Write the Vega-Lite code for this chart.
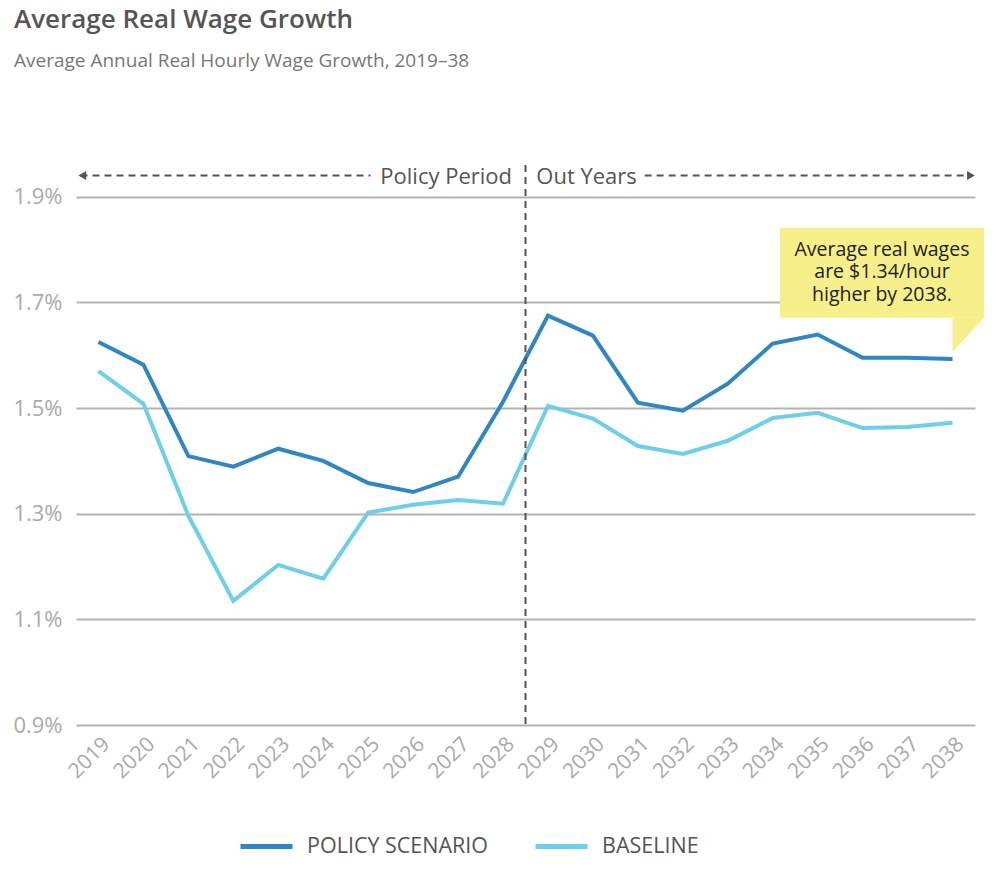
{
  "$schema": "https://vega.github.io/schema/vega-lite/v6.json",
  "description": "Average real hourly wage growth, policy scenario vs baseline, 2019-2038.",
  "width": 899,
  "height": 560,
  "autosize": {"type": "none"},
  "padding": {"left": 76, "top": 165, "right": 25, "bottom": 145},
  "title": {
    "text": "Average Real Wage Growth",
    "subtitle": "Average Annual Real Hourly Wage Growth, 2019–38",
    "anchor": "start",
    "frame": "group",
    "dx": -62,
    "offset": 93,
    "font": "Open Sans",
    "fontSize": 26,
    "fontWeight": 600,
    "color": "#555555",
    "subtitleFont": "Open Sans",
    "subtitleFontSize": 19,
    "subtitleColor": "#777777",
    "subtitlePadding": 19
  },
  "datasets": {
    "wages": [
      {"year": 2019, "series": "POLICY SCENARIO", "value": 1.625},
      {"year": 2020, "series": "POLICY SCENARIO", "value": 1.582},
      {"year": 2021, "series": "POLICY SCENARIO", "value": 1.409},
      {"year": 2022, "series": "POLICY SCENARIO", "value": 1.389},
      {"year": 2023, "series": "POLICY SCENARIO", "value": 1.423},
      {"year": 2024, "series": "POLICY SCENARIO", "value": 1.400},
      {"year": 2025, "series": "POLICY SCENARIO", "value": 1.358},
      {"year": 2026, "series": "POLICY SCENARIO", "value": 1.341},
      {"year": 2027, "series": "POLICY SCENARIO", "value": 1.370},
      {"year": 2028, "series": "POLICY SCENARIO", "value": 1.512},
      {"year": 2029, "series": "POLICY SCENARIO", "value": 1.675},
      {"year": 2030, "series": "POLICY SCENARIO", "value": 1.637},
      {"year": 2031, "series": "POLICY SCENARIO", "value": 1.510},
      {"year": 2032, "series": "POLICY SCENARIO", "value": 1.495},
      {"year": 2033, "series": "POLICY SCENARIO", "value": 1.546},
      {"year": 2034, "series": "POLICY SCENARIO", "value": 1.622},
      {"year": 2035, "series": "POLICY SCENARIO", "value": 1.639},
      {"year": 2036, "series": "POLICY SCENARIO", "value": 1.595},
      {"year": 2037, "series": "POLICY SCENARIO", "value": 1.595},
      {"year": 2038, "series": "POLICY SCENARIO", "value": 1.593},
      {"year": 2019, "series": "BASELINE", "value": 1.570},
      {"year": 2020, "series": "BASELINE", "value": 1.508},
      {"year": 2021, "series": "BASELINE", "value": 1.296},
      {"year": 2022, "series": "BASELINE", "value": 1.135},
      {"year": 2023, "series": "BASELINE", "value": 1.203},
      {"year": 2024, "series": "BASELINE", "value": 1.177},
      {"year": 2025, "series": "BASELINE", "value": 1.302},
      {"year": 2026, "series": "BASELINE", "value": 1.317},
      {"year": 2027, "series": "BASELINE", "value": 1.326},
      {"year": 2028, "series": "BASELINE", "value": 1.319},
      {"year": 2029, "series": "BASELINE", "value": 1.504},
      {"year": 2030, "series": "BASELINE", "value": 1.480},
      {"year": 2031, "series": "BASELINE", "value": 1.428},
      {"year": 2032, "series": "BASELINE", "value": 1.413},
      {"year": 2033, "series": "BASELINE", "value": 1.438},
      {"year": 2034, "series": "BASELINE", "value": 1.481},
      {"year": 2035, "series": "BASELINE", "value": 1.491},
      {"year": 2036, "series": "BASELINE", "value": 1.462},
      {"year": 2037, "series": "BASELINE", "value": 1.464},
      {"year": 2038, "series": "BASELINE", "value": 1.472}
    ],
    "divider": [{"year": 2028.5}],
    "dashes": [
      {"x": 2018.6, "x2": 2025.05, "y": 1.94},
      {"x": 2031.15, "x2": 2038.4, "y": 1.94}
    ],
    "heads": [
      {"x": 2018.64, "y": 1.94, "shape": "triangle-left"},
      {"x": 2038.41, "y": 1.94, "shape": "triangle-right"}
    ],
    "periods": [
      {"label": "Policy Period", "x": 2028.2, "y": 1.938, "side": "left"},
      {"label": "Out Years", "x": 2028.74, "y": 1.938, "side": "right"}
    ],
    "note": [
      {"x": 2034.16, "x2": 2038.7, "y": 1.841, "y2": 1.671, "cx": 2036.43, "cy": 1.80, "text": "Average real wages\nare $1.34/hour\nhigher by 2038."}
    ],
    "tail": [
      {"x": 2038, "lo": 1.6064, "hi": 1.6708},
      {"x": 2038.7, "lo": 1.6708, "hi": 1.6708}
    ]
  },
  "layer": [
    {
      "data": {"name": "wages"},
      "mark": {"type": "line", "strokeWidth": 4},
      "encoding": {
        "x": {
          "field": "year",
          "type": "quantitative",
          "scale": {"domain": [2018.5, 2038.5], "nice": false, "zero": false},
          "axis": {
            "title": null,
            "values": [2019, 2020, 2021, 2022, 2023, 2024, 2025, 2026, 2027, 2028, 2029, 2030, 2031, 2032, 2033, 2034, 2035, 2036, 2037, 2038],
            "format": "d",
            "labelAngle": -45,
            "labelFont": "Open Sans",
            "labelFontSize": 21,
            "labelColor": "#aaaaaa",
            "labelPadding": 8,
            "labelDx": 4,
            "labelFlush": false,
            "labelOverlap": false,
            "grid": false,
            "domain": false,
            "ticks": false
          }
        },
        "y": {
          "field": "value",
          "type": "quantitative",
          "scale": {"domain": [0.9, 1.96], "nice": false, "zero": false},
          "axis": {
            "title": null,
            "values": [0.9, 1.1, 1.3, 1.5, 1.7, 1.9],
            "labelExpr": "format(datum.value, '.1f') + '%'",
            "labelFont": "Open Sans",
            "labelFontSize": 22,
            "labelColor": "#aaaaaa",
            "labelPadding": 14,
            "grid": true,
            "gridColor": "#b3b3b3",
            "gridWidth": 2,
            "domain": false,
            "ticks": false
          }
        },
        "color": {
          "field": "series",
          "type": "nominal",
          "scale": {"domain": ["POLICY SCENARIO", "BASELINE"], "range": ["#2e86c4", "#6dcfe9"]},
          "legend": {
            "title": null,
            "orient": "none",
            "direction": "horizontal",
            "legendX": 162,
            "legendY": 653,
            "symbolType": "stroke",
            "symbolSize": 2704,
            "symbolStrokeWidth": 5,
            "labelFont": "Open Sans",
            "labelFontSize": 21.5,
            "labelColor": "#555555",
            "labelLimit": 400,
            "labelOffset": 12,
            "columnPadding": 36
          }
        }
      }
    },
    {
      "data": {"name": "divider"},
      "mark": {"type": "rule", "color": "#555555", "strokeWidth": 2, "strokeDash": [7, 5]},
      "encoding": {
        "x": {"field": "year", "type": "quantitative"}
      }
    },
    {
      "data": {"name": "dashes"},
      "mark": {"type": "rule", "color": "#555555", "strokeWidth": 2, "strokeDash": [7, 5]},
      "encoding": {
        "x": {"field": "x", "type": "quantitative"},
        "x2": {"field": "x2"},
        "y": {"field": "y", "type": "quantitative"}
      }
    },
    {
      "data": {"name": "heads"},
      "mark": {"type": "point", "filled": true, "color": "#555555", "opacity": 1, "size": 80},
      "encoding": {
        "x": {"field": "x", "type": "quantitative"},
        "y": {"field": "y", "type": "quantitative"},
        "shape": {"field": "shape", "type": "nominal", "scale": null}
      }
    },
    {
      "data": {"name": "periods"},
      "transform": [{"filter": "datum.side == 'left'"}],
      "mark": {"type": "text", "align": "right", "baseline": "middle", "font": "Open Sans", "fontSize": 22, "color": "#555555"},
      "encoding": {
        "x": {"field": "x", "type": "quantitative"},
        "y": {"field": "y", "type": "quantitative"},
        "text": {"field": "label"}
      }
    },
    {
      "data": {"name": "periods"},
      "transform": [{"filter": "datum.side == 'right'"}],
      "mark": {"type": "text", "align": "left", "baseline": "middle", "font": "Open Sans", "fontSize": 22, "color": "#555555"},
      "encoding": {
        "x": {"field": "x", "type": "quantitative"},
        "y": {"field": "y", "type": "quantitative"},
        "text": {"field": "label"}
      }
    },
    {
      "data": {"name": "note"},
      "mark": {"type": "rect", "color": "#f7f08a"},
      "encoding": {
        "x": {"field": "x", "type": "quantitative"},
        "x2": {"field": "x2"},
        "y": {"field": "y", "type": "quantitative"},
        "y2": {"field": "y2"}
      }
    },
    {
      "data": {"name": "tail"},
      "mark": {"type": "area", "color": "#f7f08a", "opacity": 1},
      "encoding": {
        "x": {"field": "x", "type": "quantitative"},
        "y": {"field": "lo", "type": "quantitative"},
        "y2": {"field": "hi"}
      }
    },
    {
      "data": {"name": "note"},
      "mark": {"type": "text", "align": "center", "baseline": "middle", "lineBreak": "\n", "lineHeight": 22.5, "font": "Open Sans", "fontSize": 19.5, "color": "#222222"},
      "encoding": {
        "x": {"field": "cx", "type": "quantitative"},
        "y": {"field": "cy", "type": "quantitative"},
        "text": {"field": "text"}
      }
    }
  ],
  "config": {
    "view": {"stroke": null},
    "font": "Open Sans"
  }
}
